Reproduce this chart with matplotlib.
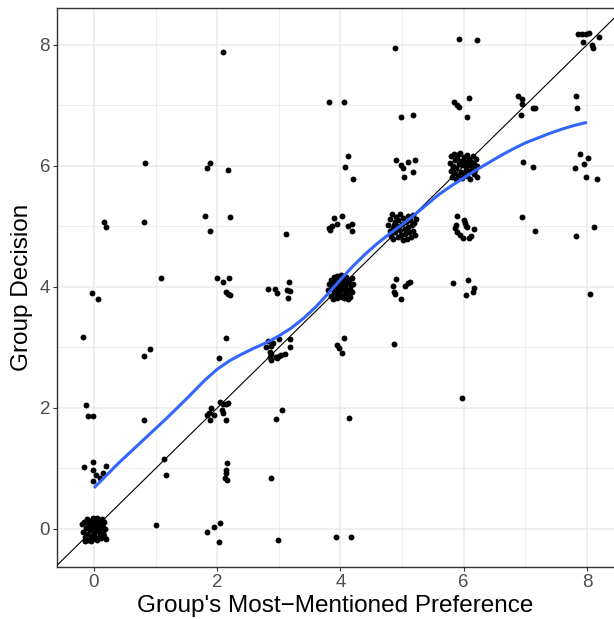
import matplotlib
matplotlib.use("Agg")
import matplotlib.pyplot as plt
import numpy as np

plt.rcParams['font.family'] = ['Liberation Sans', 'DejaVu Sans']

# ---- data (jittered points) ----
sparse_points = [
    (7.85, 8.18), (7.92, 8.18), (7.98, 8.18), (8.04, 8.19), (7.93, 8.04), (8.08, 8.00), (8.10, 7.95), (8.19, 8.13),
    (5.93, 8.09), (6.21, 8.08), (2.10, 7.89), (4.88, 7.95),
    (3.81, 7.06), (4.05, 7.06), (4.98, 6.81), (5.17, 6.84),
    (5.85, 7.05), (5.89, 7.01), (5.93, 6.97), (6.09, 7.13), (6.05, 6.81),
    (6.88, 7.15), (6.94, 7.10), (6.95, 7.02), (7.12, 6.96), (7.16, 6.95), (6.93, 6.84),
    (7.82, 7.15), (7.84, 6.96),
    (0.83, 6.05), (1.83, 5.97), (1.88, 6.05), (2.17, 5.94),
    (4.13, 6.17), (4.07, 5.98), (4.20, 5.79),
    (4.90, 6.10), (4.98, 6.02), (5.02, 5.97), (5.09, 6.07), (5.21, 6.09), (5.17, 5.90), (5.03, 5.81),
    (6.96, 6.07), (7.12, 5.99),
    (7.89, 6.19), (8.02, 6.13), (7.96, 6.04), (7.81, 5.97), (7.98, 5.82), (8.17, 5.79),
    (0.16, 5.07), (0.19, 4.99), (0.81, 5.07), (1.81, 5.18), (2.20, 5.16), (1.89, 4.93), (3.12, 4.88),
    (3.83, 4.94), (3.87, 5.00), (3.90, 5.14), (3.95, 5.04), (4.03, 5.17), (4.12, 5.01), (4.18, 5.04), (4.18, 4.93), (3.82, 4.97),
    (6.95, 5.16), (7.16, 4.93), (7.82, 4.85), (8.11, 4.99),
    (-0.04, 3.90), (0.06, 3.80), (1.09, 4.15),
    (2.00, 4.15), (2.10, 4.08), (2.19, 4.15), (2.15, 3.91), (2.18, 3.88), (2.20, 3.86),
    (2.83, 3.97), (2.94, 3.96), (2.97, 3.90), (3.16, 4.08), (3.14, 3.95), (3.18, 3.94), (3.15, 3.81),
    (4.90, 4.13), (4.86, 4.02), (4.87, 3.92), (4.88, 3.88), (5.05, 4.02), (5.09, 4.06), (5.13, 4.08), (4.98, 3.80),
    (5.83, 4.06), (6.07, 4.12), (6.16, 3.98), (6.15, 3.92), (6.03, 3.86), (8.05, 3.88),
    (-0.17, 3.18), (0.82, 2.86), (0.91, 2.98), (2.14, 3.16), (2.03, 2.82),
    (4.06, 3.15), (3.95, 3.04), (3.98, 2.99), (4.02, 2.91), (4.87, 3.05),
    (-0.13, 2.05), (-0.09, 1.86), (-0.01, 1.87), (0.81, 1.80),
    (1.83, 1.88), (1.87, 1.92), (1.90, 2.00), (1.88, 1.80), (1.94, 1.88), (2.07, 1.96),
    (2.10, 1.91), (2.05, 2.10), (2.10, 2.07), (2.15, 2.06), (2.18, 2.09), (2.14, 1.80),
    (3.05, 1.97), (2.95, 1.82), (4.14, 1.83), (5.97, 2.17),
    (-0.16, 1.02), (-0.01, 1.10), (-0.01, 0.98), (0.04, 0.89), (-0.02, 0.80), (0.15, 0.93), (0.19, 1.04), (0.10, 0.84),
    (1.13, 1.16), (1.17, 0.90),
    (2.16, 1.09), (2.15, 0.98), (2.14, 0.93), (2.12, 0.84), (2.16, 0.81), (2.88, 0.85),
    (1.01, 0.07), (1.84, -0.05), (1.94, 0.04), (2.05, 0.10), (2.03, -0.21),
    (2.98, -0.19), (3.93, -0.13), (4.17, -0.13),
]

cluster_0_0 = [
    (-0.19, 0.08), (-0.17, -0.05), (-0.16, 0.12), (-0.14, -0.14), (-0.13, 0.02), (-0.12, 0.16), (-0.11, -0.09),
    (-0.10, 0.05), (-0.09, -0.18), (-0.08, 0.11), (-0.07, -0.02), (-0.06, 0.14), (-0.05, -0.12), (-0.04, 0.07),
    (-0.03, -0.16), (-0.02, 0.00), (-0.01, 0.18), (0.00, -0.07), (0.01, 0.10), (0.02, -0.13), (0.03, 0.03),
    (0.04, 0.15), (0.05, -0.19), (0.06, 0.06), (0.07, -0.04), (0.08, 0.13), (0.09, -0.10), (0.10, 0.01),
    (0.11, 0.09), (0.12, -0.15), (0.13, 0.17), (0.14, -0.06), (0.15, 0.04), (0.16, -0.11), (0.17, 0.12),
    (0.18, 0.00), (0.19, -0.17), (-0.15, -0.20), (0.05, 0.19), (-0.05, -0.20),
]

cluster_3_3 = [
    (2.83, 3.10), (2.87, 3.03), (2.85, 2.93), (2.88, 2.90), (2.87, 2.79), (2.97, 2.82), (3.01, 2.86), (3.01, 3.14),
    (3.10, 2.89), (3.18, 3.14), (3.18, 3.00), (2.91, 3.07), (2.80, 3.01), (2.96, 2.85), (3.03, 2.88), (2.86, 2.85),
]

cluster_4_4 = [
    (3.80, 3.95), (3.82, 4.05), (3.84, 3.85), (3.85, 4.12), (3.87, 3.98), (3.88, 3.80), (3.89, 4.08), (3.90, 3.92),
    (3.91, 4.15), (3.92, 3.88), (3.93, 4.02), (3.94, 3.82), (3.95, 4.18), (3.96, 3.96), (3.97, 4.10), (3.98, 3.86),
    (3.99, 4.04), (4.00, 3.93), (4.01, 4.19), (4.02, 3.83), (4.03, 4.07), (4.04, 3.99), (4.05, 3.81), (4.06, 4.13),
    (4.07, 3.90), (4.08, 4.01), (4.09, 4.16), (4.10, 3.87), (4.11, 4.06), (4.12, 3.94), (4.13, 3.80), (4.14, 4.11),
    (4.15, 3.97), (4.16, 3.84), (4.17, 4.03), (4.18, 4.14), (4.19, 3.91), (3.86, 4.00), (3.95, 3.89), (4.03, 4.09),
    (4.11, 3.82), (4.20, 4.05), (3.90, 4.17), (4.00, 3.85), (4.08, 3.98),
]

cluster_5_5 = [
    (4.78, 5.02), (4.80, 4.92), (4.81, 5.12), (4.82, 4.84), (4.84, 5.20), (4.85, 4.98), (4.86, 4.80), (4.88, 5.08),
    (4.89, 4.90), (4.90, 5.16), (4.92, 5.00), (4.93, 4.82), (4.94, 5.10), (4.96, 4.94), (4.97, 5.21), (4.98, 4.86),
    (5.00, 5.04), (5.01, 4.78), (5.02, 5.14), (5.04, 4.96), (5.05, 4.88), (5.06, 5.07), (5.08, 4.80), (5.09, 5.18),
    (5.10, 4.99), (5.12, 4.90), (5.13, 5.11), (5.14, 4.83), (5.16, 5.02), (5.17, 5.19), (5.18, 4.93), (5.20, 5.06),
    (5.21, 4.86), (5.22, 5.13), (4.87, 5.03),
]

cluster_6_5 = [
    (5.89, 5.17), (6.01, 5.11), (6.02, 5.06), (6.05, 4.99), (5.88, 5.03), (5.86, 4.97), (5.90, 4.90),
    (5.94, 4.86), (5.99, 4.81), (6.08, 4.81), (6.12, 4.85), (6.16, 4.95), (6.04, 5.00),
]

cluster_6_6 = [
    (5.78, 6.05), (5.79, 5.92), (5.80, 6.16), (5.81, 5.82), (5.82, 6.00), (5.84, 6.20), (5.85, 5.88), (5.86, 6.10),
    (5.87, 5.79), (5.88, 5.97), (5.90, 6.13), (5.91, 5.85), (5.92, 6.04), (5.93, 6.19), (5.95, 5.90), (5.96, 6.08),
    (5.97, 5.80), (5.98, 6.01), (6.00, 6.15), (6.01, 5.87), (6.02, 6.06), (6.04, 5.94), (6.05, 6.18), (6.06, 5.83),
    (6.07, 6.02), (6.09, 6.11), (6.10, 5.91), (6.11, 5.78), (6.12, 6.07), (6.14, 5.98), (6.15, 6.17), (6.16, 5.86),
    (6.17, 6.03), (6.18, 5.93), (6.20, 6.12), (6.21, 5.81), (6.22, 6.00), (5.83, 5.96), (6.03, 5.99), (5.94, 6.21),
]

# smooth (loess) curve
smooth_x = [0.0, 0.4, 0.8, 1.2, 1.5, 1.8, 2.0, 2.2, 2.4, 2.6, 2.8, 3.0, 3.2, 3.4, 3.6, 3.8, 4.0, 4.2, 4.4,
            4.6, 4.8, 5.0, 5.2, 5.4, 5.6, 5.8, 6.0, 6.2, 6.4, 6.6, 6.8, 7.0, 7.2, 7.4, 7.6, 7.8, 8.0]
smooth_y = [0.68, 1.09, 1.47, 1.85, 2.15, 2.46, 2.64, 2.78, 2.89, 2.99, 3.08, 3.19, 3.32, 3.48, 3.67, 3.89,
            4.12, 4.34, 4.54, 4.72, 4.88, 5.03, 5.19, 5.36, 5.53, 5.67, 5.80, 5.93, 6.05, 6.17, 6.28, 6.38,
            6.46, 6.54, 6.61, 6.67, 6.72]

x_ticks = [0, 2, 4, 6, 8]
y_ticks = [0, 2, 4, 6, 8]
x_label = "Group's Most\u2212Mentioned Preference"
y_label = "Group Decision"

# ---- figure ----
W, H = 614, 619
fig = plt.figure(figsize=(W / 100, H / 100), dpi=100)
left, right, top, bottom = 57, 614, 8, 567
ax = fig.add_axes([left / W, 1 - bottom / H, (right - left) / W, (bottom - top) / H])

ax.set_xlim(-0.60, 8.44)
ax.set_ylim(-0.628, 8.61)

ax.set_facecolor('white')
for t in [1, 3, 5, 7]:
    ax.axvline(t, color='#EBEBEB', lw=0.6, zorder=0)
    ax.axhline(t, color='#EBEBEB', lw=0.6, zorder=0)
for t in x_ticks:
    ax.axvline(t, color='#EBEBEB', lw=1.1, zorder=0)
for t in y_ticks:
    ax.axhline(t, color='#EBEBEB', lw=1.1, zorder=0)

pts = sparse_points + cluster_0_0 + cluster_3_3 + cluster_4_4 + cluster_5_5 + cluster_6_5 + cluster_6_6
px = [p[0] for p in pts]
py = [p[1] for p in pts]
ax.scatter(px, py, s=18, color='black', linewidths=0, zorder=2)

ax.axline((0, 0), slope=1, color='black', lw=0.8, zorder=3)
ax.plot(smooth_x, smooth_y, color='#3366FF', lw=2.2, zorder=4, solid_capstyle='butt', solid_joinstyle='round')

for side in ['left', 'bottom', 'top']:
    ax.spines[side].set_color('#333333')
    ax.spines[side].set_linewidth(1.0)
ax.spines['right'].set_visible(False)

ax.set_xticks(x_ticks)
ax.set_yticks(y_ticks)
ax.tick_params(axis='both', direction='out', length=3, width=0.8, color='#333333',
               labelsize=13.5, labelcolor='#4D4D4D', pad=2)
ax.set_xlabel(x_label, fontsize=17.5, color='black', labelpad=3)
ax.set_ylabel(y_label, fontsize=17.5, color='black', labelpad=5)

fig.savefig('out.png', dpi=100)
